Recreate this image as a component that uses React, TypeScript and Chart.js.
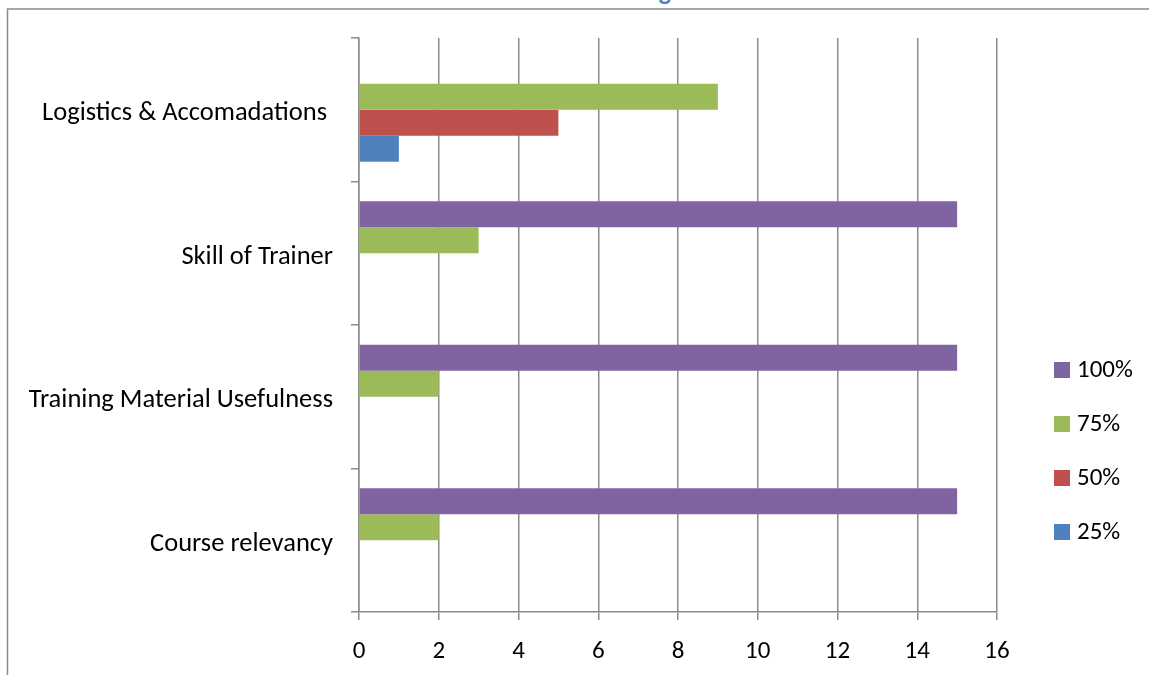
import React, { useEffect, useRef } from "react";
import { Chart, registerables } from "chart.js";

Chart.register(...registerables);

const categories = [
  "Course relevancy",
  "Training Material Usefulness",
  "Skill of Trainer",
  "Logistics & Accomadations ",
];
const seriesLabels = ["100%", "75%", "50%", "25%"];
const values100 = [15, 15, 15, 0];
const values75 = [2, 2, 3, 9];
const values50 = [0, 0, 0, 5];
const values25 = [0, 0, 0, 1];
const seriesColors = ["#8064A2", "#9BBB59", "#C0504D", "#4F81BD"];
const xMin = 0;
const xMax = 16;
const xStep = 2;

const FONT = "Carlito, Lato, 'Open Sans', sans-serif";
const FONT_SIZE = 25;
const CAT_FONT_SIZE = 26.5;
const GRID = "#8c8c8c";

const framePlugin = {
  id: "frame",
  beforeDraw(chart: any) {
    const ctx = chart.ctx;
    ctx.save();
    ctx.fillStyle = "#ffffff";
    ctx.fillRect(0, 0, chart.width, chart.height);
    ctx.strokeStyle = "#8a8a8a";
    ctx.lineWidth = 1.5;
    ctx.beginPath();
    ctx.moveTo(7.5, chart.height + 2);
    ctx.lineTo(7.5, 9);
    ctx.lineTo(chart.width + 2, 9);
    ctx.stroke();
    // clipped title (only the descender is visible)
    ctx.fillStyle = "#4F81BD";
    ctx.font = `bold 26px ${FONT}`;
    ctx.textAlign = "center";
    ctx.textBaseline = "alphabetic";
    ctx.fillText("g", 665, 0);
    ctx.restore();
  },
};

const legendPlugin = {
  id: "sideLegend",
  afterDraw(chart: any) {
    const ctx = chart.ctx;
    const ds = chart.data.datasets;
    ctx.save();
    ctx.font = `${FONT_SIZE}px ${FONT}`;
    ctx.textBaseline = "middle";
    ctx.textAlign = "left";
    const x0 = 1054;
    const y0 = 370;
    const gap = 54;
    ds.forEach((d: any, i: number) => {
      const cy = y0 + i * gap;
      ctx.fillStyle = d.backgroundColor;
      ctx.fillRect(x0, cy - 8, 16, 16);
      ctx.fillStyle = "#000";
      ctx.fillText(d.label, x0 + 23, cy + 1);
    });
    ctx.restore();
  },
};

export default function App() {
  const ref = useRef<HTMLCanvasElement | null>(null);

  useEffect(() => {
    document.body.style.margin = "0";
    const canvas = ref.current;
    if (!canvas) return;
    const seriesValues = [values100, values75, values50, values25];
    const chart = new Chart(canvas, {
      type: "bar",
      data: {
        labels: categories,
        datasets: seriesLabels.map((label, i) => ({
          label,
          data: seriesValues[i],
          backgroundColor: seriesColors[i],
          borderWidth: 0,
          barPercentage: 1,
          categoryPercentage: 0.725,
        })),
      },
      options: {
        indexAxis: "y",
        responsive: false,
        animation: false,
        devicePixelRatio: 1,
        layout: { padding: { top: 38, right: 152, left: 0, bottom: 0 } },
        plugins: {
          legend: { display: false },
          title: { display: false },
          tooltip: { enabled: false },
        },
        scales: {
          x: {
            type: "linear",
            min: xMin,
            max: xMax,
            ticks: {
              stepSize: xStep,
              color: "#000",
              font: { family: FONT, size: FONT_SIZE },
              padding: 17,
            },
            grid: {
              color: GRID,
              lineWidth: 1.5,
              tickLength: 8,
              drawTicks: true,
            },
            border: { color: GRID, width: 1.5 },
            afterFit: (s: any) => {
              s.height = 63;
            },
          },
          y: {
            type: "category",
            reverse: true,
            offset: true,
            ticks: {
              color: "#000",
              font: { family: FONT, size: CAT_FONT_SIZE },
              padding: 18,
              labelOffset: 4,
            },
            grid: {
              offset: true,
              drawOnChartArea: false,
              drawTicks: true,
              tickLength: 8,
              color: GRID,
              lineWidth: 1.5,
            },
            border: { color: GRID, width: 1.5 },
            afterFit: (s: any) => {
              s.width = 359;
            },
          },
        },
      },
      plugins: [framePlugin, legendPlugin],
    });
    return () => chart.destroy();
  }, []);

  return (
    <div style={{ position: "fixed", left: 0, top: 0, width: 1149, height: 675, background: "#fff" }}>
      <canvas ref={ref} width={1149} height={675} style={{ width: 1149, height: 675, display: "block" }} />
    </div>
  );
}
